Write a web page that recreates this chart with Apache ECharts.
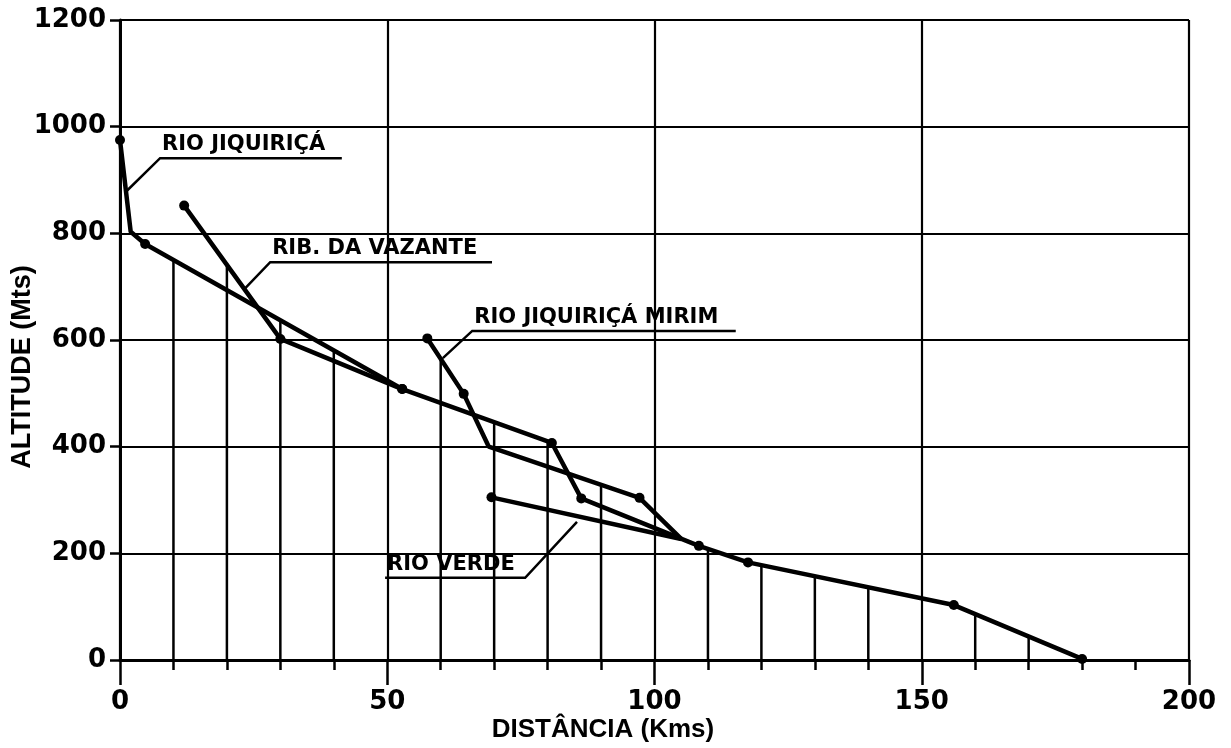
<!DOCTYPE html>
<html>
<head>
<meta charset="utf-8">
<title>Perfil longitudinal</title>
<script src="https://cdn.jsdelivr.net/npm/echarts@6/dist/echarts.min.js"></script>
<style>
  html, body { margin: 0; padding: 0; background: #fff; }
  #chart { width: 1231px; height: 748px; }
</style>
</head>
<body>
<div id="chart"></div>
<script>
// Longitudinal river profiles: distance (km) against altitude (m)
const xTicks = [0, 50, 100, 150, 200];
const xTickLabels = ['0', '50', '100', '150', '200'];
const yTicks = [0, 200, 400, 600, 800, 1000, 1200];
const yTickLabels = ['0', '200', '400', '600', '800', '1000', '1200'];

// surveyed points [km, m]
const rioJiquirica = [[0, 975], [2, 803], [4.7, 780], [52.8, 508], [80.8, 407], [86.3, 303], [108.3, 214], [117.5, 183], [156, 103], [180, 2]];
const ribVazante = [[12, 852], [30, 602], [52.8, 508]];
const rioJiquiricaMirim = [[57.5, 603], [64.3, 499], [69, 400], [97.2, 304], [105, 227]];
const rioVerde = [[69.5, 305], [105, 227]];

// vertices that are bends or confluences, drawn without a station dot
const bareJiquirica = [1];
const bareVazante = [];
const bareMirim = [2, 4];
const bareVerde = [1];

// 10 km stations and the altitude of the highest profile above each one
const stationKm = [10, 20, 30, 40, 60, 70, 80, 90, 110, 120, 130, 140, 160, 170];
const stationAlt = [750, 741, 637, 580, 565, 446, 410, 328, 208, 178, 157, 136, 86, 44];

// river names
const riverNames = ['RIO JIQUIRIÇÁ', 'RIB. DA VAZANTE', 'RIO JIQUIRIÇÁ MIRIM', 'RIO VERDE'];

// placement of the underlined name tags and their leaders (axis units)
const tagLayout = [
  { x0: 7.5,  x1: 41.5,  y: 941, lx: 1.1,  ly: 878, from: 'start' },
  { x0: 28.1, x1: 69.6,  y: 746, lx: 23.4, ly: 697, from: 'start' },
  { x0: 65.9, x1: 115.2, y: 617, lx: 60.4, ly: 566, from: 'start' },
  { x0: 49.6, x1: 75.8,  y: 154, lx: 85.5, ly: 259, from: 'end' }
];

const INK = '#000';
const tickFont = 'DejaVu Sans';
const titleFont = 'Liberation Sans';

function profile(name, pts, bare) {
  return {
    type: 'line',
    name: name,
    data: pts.map((p, i) => bare.indexOf(i) >= 0 ? { value: p, symbol: 'none' } : p),
    symbol: 'circle',
    symbolSize: 10,
    showSymbol: true,
    lineStyle: { color: INK, width: 4.5 },
    itemStyle: { color: INK },
    emphasis: { disabled: true },
    silent: true,
    z: 6
  };
}

const chart = echarts.init(document.getElementById('chart'), null, { renderer: 'canvas' });

chart.setOption({
  animation: false,
  backgroundColor: '#fff',
  grid: { left: 120, right: 42, top: 20, bottom: 88, containLabel: false, outerBoundsMode: 'none' },
  xAxis: {
    type: 'value',
    min: xTicks[0],
    max: xTicks[xTicks.length - 1],
    interval: xTicks[1] - xTicks[0],
    axisLine: { show: true, onZero: false, lineStyle: { color: INK, width: 3 } },
    axisTick: { show: true, inside: false, length: 25, lineStyle: { color: INK, width: 2.5 } },
    minorTick: { show: true, splitNumber: 5, length: 10, lineStyle: { color: INK, width: 2.5 } },
    splitLine: { show: true, lineStyle: { color: INK, width: 2.2 } },
    axisLabel: {
      color: INK, fontFamily: tickFont, fontWeight: 'bold', fontSize: 26, margin: 29,
      formatter: v => xTickLabels[xTicks.indexOf(v)]
    },
    name: 'DISTÂNCIA (Kms)',
    nameLocation: 'middle',
    nameGap: 57,
    nameMoveOverlap: false,
    nameTextStyle: {
      color: INK, fontFamily: titleFont, fontWeight: 'bold', fontSize: 26,
      padding: [0, 103, 0, 0]
    }
  },
  yAxis: {
    type: 'value',
    min: yTicks[0],
    max: yTicks[yTicks.length - 1],
    interval: yTicks[1] - yTicks[0],
    axisLine: { show: true, onZero: false, lineStyle: { color: INK, width: 3 } },
    axisTick: { show: true, inside: false, length: 10, lineStyle: { color: INK, width: 2.5 } },
    splitLine: { show: true, lineStyle: { color: INK, width: 2.2 } },
    axisLabel: {
      color: INK, fontFamily: tickFont, fontWeight: 'bold', fontSize: 26, margin: 14,
      formatter: v => yTickLabels[yTicks.indexOf(v)]
    },
    name: 'ALTITUDE (Mts)',
    nameLocation: 'middle',
    nameRotate: 90,
    nameGap: 84,
    nameMoveOverlap: false,
    nameTextStyle: {
      color: INK, fontFamily: titleFont, fontWeight: 'bold', fontSize: 27,
      padding: [0, 54, 0, 0]
    }
  },
  series: [
    // verticals from each 10 km station down to the distance axis
    {
      type: 'custom',
      silent: true,
      z: 3,
      data: stationKm.map((k, i) => [k, stationAlt[i]]),
      renderItem: (params, api) => {
        const top = api.coord([api.value(0), api.value(1)]);
        const base = api.coord([api.value(0), 0]);
        return {
          type: 'line',
          shape: { x1: top[0], y1: top[1], x2: base[0], y2: base[1] },
          style: { stroke: INK, lineWidth: 2.5 }
        };
      }
    },
    profile('Rio Jiquiriçá', rioJiquirica, bareJiquirica),
    profile('Rib. da Vazante', ribVazante, bareVazante),
    profile('Rio Jiquiriçá Mirim', rioJiquiricaMirim, bareMirim),
    profile('Rio Verde', rioVerde, bareVerde),
    // underlined river names with leader lines
    {
      type: 'custom',
      silent: true,
      clip: false,
      z: 5,
      data: tagLayout.map(t => [t.x0, t.y]),
      renderItem: (params, api) => {
        const t = tagLayout[params.dataIndex];
        const a = api.coord([t.x0, t.y]);
        const b = api.coord([t.x1, t.y]);
        const c = api.coord([t.lx, t.ly]);
        const pts = t.from === 'start' ? [c, a, b] : [a, b, c];
        return {
          type: 'group',
          children: [
            {
              type: 'polyline',
              shape: { points: pts },
              style: { stroke: INK, lineWidth: 2.5, fill: null }
            },
            {
              type: 'text',
              x: a[0] + 2,
              y: a[1] - 3,
              style: {
                text: riverNames[params.dataIndex],
                font: 'bold 21px "DejaVu Sans"',
                fill: INK,
                align: 'left',
                verticalAlign: 'bottom'
              }
            }
          ]
        };
      }
    }
  ]
});
</script>
</body>
</html>
